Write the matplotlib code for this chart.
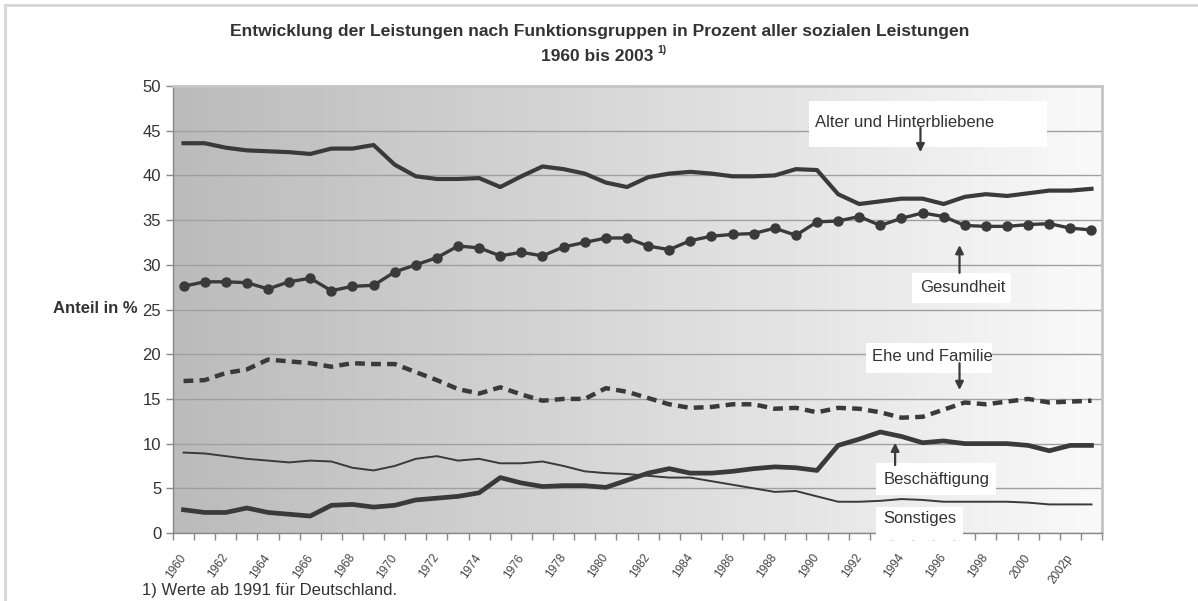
import matplotlib.pyplot as plt
import matplotlib.patches as patches
import numpy as np

plt.rcParams['font.family'] = ['Liberation Sans', 'DejaVu Sans']

# Daten (Anteil in %)
jahre = list(range(1960, 2004))
alter = [43.6, 43.6, 43.1, 42.8, 42.7, 42.6, 42.4, 43.0, 43.0, 43.4,
         41.2, 39.9, 39.6, 39.6, 39.7, 38.7, 39.9, 41.0, 40.7, 40.2,
         39.2, 38.7, 39.8, 40.2, 40.4, 40.2, 39.9, 39.9, 40.0, 40.7,
         40.6, 37.9, 36.8, 37.1, 37.4, 37.4, 36.8, 37.6, 37.9, 37.7,
         38.0, 38.3, 38.3, 38.5]
gesundheit = [27.6, 28.1, 28.1, 28.0, 27.3, 28.1, 28.5, 27.1, 27.6, 27.7,
              29.2, 30.0, 30.8, 32.1, 31.9, 31.0, 31.4, 31.0, 32.0, 32.5,
              33.0, 33.0, 32.1, 31.7, 32.7, 33.2, 33.4, 33.5, 34.1, 33.3,
              34.8, 34.9, 35.4, 34.4, 35.2, 35.8, 35.4, 34.4, 34.3, 34.3,
              34.5, 34.6, 34.1, 33.9]
ehe_familie = [17.0, 17.1, 17.9, 18.3, 19.4, 19.2, 19.0, 18.6, 19.0, 18.9,
               18.9, 18.0, 17.1, 16.1, 15.6, 16.3, 15.5, 14.8, 15.0, 15.0,
               16.2, 15.8, 15.1, 14.4, 14.0, 14.1, 14.4, 14.4, 13.9, 14.0,
               13.5, 14.0, 13.9, 13.5, 12.9, 13.0, 13.8, 14.6, 14.4, 14.7,
               15.0, 14.6, 14.7, 14.8]
beschaeftigung = [2.6, 2.3, 2.3, 2.8, 2.3, 2.1, 1.9, 3.1, 3.2, 2.9,
                  3.1, 3.7, 3.9, 4.1, 4.5, 6.2, 5.6, 5.2, 5.3, 5.3,
                  5.1, 5.9, 6.7, 7.2, 6.7, 6.7, 6.9, 7.2, 7.4, 7.3,
                  7.0, 9.8, 10.5, 11.3, 10.8, 10.1, 10.3, 10.0, 10.0, 10.0,
                  9.8, 9.2, 9.8, 9.8]
sonstiges = [9.0, 8.9, 8.6, 8.3, 8.1, 7.9, 8.1, 8.0, 7.3, 7.0,
             7.5, 8.3, 8.6, 8.1, 8.3, 7.8, 7.8, 8.0, 7.5, 6.9,
             6.7, 6.6, 6.4, 6.2, 6.2, 5.8, 5.4, 5.0, 4.6, 4.7,
             4.1, 3.5, 3.5, 3.6, 3.8, 3.7, 3.5, 3.5, 3.5, 3.5,
             3.4, 3.2, 3.2, 3.2]
x_labels = [str(j) for j in range(1960, 2002, 2)] + ['2002p']

linie = '#3a3a3a'
text_c = '#333333'

fig = plt.figure(figsize=(11.98, 6.01), dpi=100)
ax = fig.add_axes([0.1444, 0.1131, 0.7755, 0.7438])

x = np.arange(len(jahre))
ax.set_xlim(-0.5, len(jahre) - 0.5)
ax.set_ylim(0, 50)

# Hintergrund-Verlauf
grad = np.linspace(0.73, 0.975, 256).reshape(1, -1)
ax.imshow(grad, extent=[-0.5, len(jahre) - 0.5, 0, 50], aspect='auto',
          cmap='gray', vmin=0, vmax=1, zorder=0, interpolation='bicubic')

ax.yaxis.grid(True, color='#a0a0a0', lw=1, zorder=1)
ax.set_axisbelow(True)

ax.plot(x, alter, color=linie, lw=3, solid_joinstyle='round', zorder=3)
ax.plot(x, gesundheit, color=linie, lw=2.4, marker='o', ms=6.5, zorder=3)
ax.plot(x, ehe_familie, color=linie, lw=3.2, ls=(0, (2.2, 1.4)), zorder=3)
ax.plot(x, beschaeftigung, color=linie, lw=3.4, solid_joinstyle='round', zorder=3)
ax.plot(x, sonstiges, color=linie, lw=1.4, zorder=3)

# Achsen
ax.set_yticks(range(0, 51, 5))
ax.tick_params(axis='y', labelsize=12, labelcolor=text_c, color='#888888',
               length=5, width=1)
ax.set_xticks(x[::2])
ax.set_xticklabels(x_labels, rotation=55, ha='right', va='center',
                   rotation_mode='anchor', fontsize=8.5, color='#444444')
ax.set_xticks(np.arange(-0.5, len(jahre), 1), minor=True)
ax.tick_params(axis='x', which='major', length=0, pad=16)
ax.tick_params(axis='x', which='minor', length=5, color='#888888', width=1)
for s in ['top', 'right']:
    ax.spines[s].set_color('#c4c4c4')
    ax.spines[s].set_linewidth(2)
for s in ['left', 'bottom']:
    ax.spines[s].set_color('#888888')
    ax.spines[s].set_linewidth(1)

# Beschriftungen mit weissen Kästen
kaesten = [(29.6, 43.2, 11.3, 5.1), (34.5, 25.7, 4.7, 3.4), (32.3, 17.9, 6.0, 3.4),
           (32.8, 4.25, 5.7, 3.55), (32.8, -0.8, 4.1, 3.7)]
for (bx, by, bw, bh) in kaesten:
    ax.add_patch(patches.Rectangle((bx, by), bw, bh, facecolor='white',
                                   edgecolor='none', zorder=4, clip_on=False))

ax.text(29.9, 45.9, 'Alter und Hinterbliebene', fontsize=12, color=text_c, va='center', zorder=5)
ax.text(34.9, 27.5, 'Gesundheit', fontsize=12, color=text_c, va='center', zorder=5)
ax.text(32.6, 19.7, 'Ehe und Familie', fontsize=12, color=text_c, va='center', zorder=5)
ax.text(33.15, 6.0, 'Beschäftigung', fontsize=12, color=text_c, va='center', zorder=5)
ax.text(33.15, 1.6, 'Sonstiges', fontsize=12, color=text_c, va='center', zorder=5)

pfeil = dict(arrowstyle='-|>', color=linie, lw=1.6, mutation_scale=12, shrinkA=0, shrinkB=0)
ax.annotate('', xy=(34.9, 42.6), xytext=(34.9, 45.3), arrowprops=pfeil, zorder=6)
ax.annotate('', xy=(36.75, 32.2), xytext=(36.75, 29.1), arrowprops=pfeil, zorder=6)
ax.annotate('', xy=(36.75, 16.0), xytext=(36.75, 19.0), arrowprops=pfeil, zorder=6)
ax.annotate('', xy=(33.7, 10.1), xytext=(33.7, 7.6), arrowprops=pfeil, zorder=6)

# Titel und Texte
fig.text(0.5008, 0.9473, 'Entwicklung der Leistungen nach Funktionsgruppen in Prozent aller sozialen Leistungen',
         ha='center', va='center', fontsize=12.6, fontweight='bold', color=text_c)
fig.text(0.4987, 0.9057, '1960 bis 2003', ha='center', va='center',
         fontsize=12.5, fontweight='bold', color=text_c)
fig.text(0.5485, 0.9168, '1)', ha='left', va='center', fontsize=7.5,
         fontweight='bold', color=text_c)
fig.text(0.1147, 0.486, 'Anteil in %', ha='right', va='center', fontsize=12,
         fontweight='bold', color=text_c)
fig.text(0.1185, 0.018, '1) Werte ab 1991 für Deutschland.', ha='left', va='center',
         fontsize=12, color=text_c)

# Rahmen um die Grafik
fig.add_artist(plt.Line2D([0.0045, 1.0], [0.9925, 0.9925], color='#d6d6d6', lw=2))
fig.add_artist(plt.Line2D([0.0045, 0.0045], [0.0, 0.9925], color='#d6d6d6', lw=2))

fig.savefig('out.png', dpi=100)
